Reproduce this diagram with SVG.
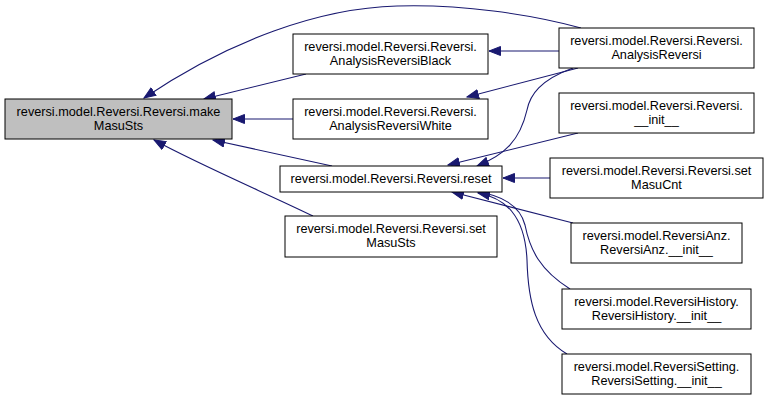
<svg xmlns="http://www.w3.org/2000/svg" width="768" height="400" viewBox="0 0 768 400">
<style>
.n rect{fill:#ffffff;stroke:#000000;stroke-width:1}
.n.main rect{fill:#bfbfbf}
text{font-family:"Liberation Sans",Arial,sans-serif;font-size:12.7px;text-anchor:middle;fill:#000}
.e path{fill:none;stroke:#191970;stroke-width:1.1}
</style>
<defs>
<marker id="ah" markerUnits="userSpaceOnUse" markerWidth="14" markerHeight="12" refX="12" refY="5" orient="auto">
<polygon points="0.5,0.5 12,5 0.5,9.5" fill="#191970" stroke="#191970"/>
</marker>
</defs>
<rect width="768" height="400" fill="#ffffff"/>
<g class="e">
<path d="M581,28 C530,14 460,4 397,6 C320,8 230,40 144,98" marker-end="url(#ah)"/>
<path d="M306,74 L204,99" marker-end="url(#ah)"/>
<path d="M293,119 L233,119" marker-end="url(#ah)"/>
<path d="M332,166 L213,140" marker-end="url(#ah)"/>
<path d="M313,216 C270,195 200,165 154,140" marker-end="url(#ah)"/>
<path d="M559,51 L489,51" marker-end="url(#ah)"/>
<path d="M578,68 L467,97" marker-end="url(#ah)"/>
<path d="M573,68 C540,80 530,95 527,110 C520,140 505,155 477,166" marker-end="url(#ah)"/>
<path d="M578,133 L448,165" marker-end="url(#ah)"/>
<path d="M550,178 L503,178" marker-end="url(#ah)"/>
<path d="M573,223 L452,192" marker-end="url(#ah)"/>
<path d="M570,289 C540,270 530,250 525,225 C520,205 500,195 478,192" marker-end="url(#ah)"/>
<path d="M567,354 C535,335 528,300 527,260 C525,215 505,198 478,193" marker-end="url(#ah)"/>
</g>
<g id="makeMasuSts" class="n main"><rect x="5" y="99" width="227" height="40"/><text x="118.5" y="116">reversi.model.Reversi.Reversi.make</text><text x="118.5" y="130">MasuSts</text></g>
<g id="AnalysisReversiBlack" class="n"><rect x="293" y="34" width="195" height="40"/><text x="390.5" y="51">reversi.model.Reversi.Reversi.</text><text x="390.5" y="65">AnalysisReversiBlack</text></g>
<g id="AnalysisReversiWhite" class="n"><rect x="293" y="99" width="195" height="40"/><text x="390.5" y="116">reversi.model.Reversi.Reversi.</text><text x="390.5" y="130">AnalysisReversiWhite</text></g>
<g id="reset" class="n"><rect x="280" y="166" width="222" height="26"/><text x="391" y="183">reversi.model.Reversi.Reversi.reset</text></g>
<g id="setMasuSts" class="n"><rect x="285" y="216" width="212" height="41"/><text x="391" y="233">reversi.model.Reversi.Reversi.set</text><text x="391" y="247">MasuSts</text></g>
<g id="AnalysisReversi" class="n"><rect x="559" y="28" width="195" height="40"/><text x="656.5" y="45">reversi.model.Reversi.Reversi.</text><text x="656.5" y="59">AnalysisReversi</text></g>
<g id="Reversi_init" class="n"><rect x="559" y="93" width="195" height="40"/><text x="656.5" y="110">reversi.model.Reversi.Reversi.</text><text x="656.5" y="124">__init__</text></g>
<g id="setMasuCnt" class="n"><rect x="550" y="158" width="213" height="40"/><text x="656.5" y="175">reversi.model.Reversi.Reversi.set</text><text x="656.5" y="189">MasuCnt</text></g>
<g id="ReversiAnz_init" class="n"><rect x="571" y="223" width="171" height="40"/><text x="656.5" y="240">reversi.model.ReversiAnz.</text><text x="656.5" y="254">ReversiAnz.__init__</text></g>
<g id="ReversiHistory_init" class="n"><rect x="562" y="289" width="189" height="40"/><text x="656.5" y="306">reversi.model.ReversiHistory.</text><text x="656.5" y="320">ReversiHistory.__init__</text></g>
<g id="ReversiSetting_init" class="n"><rect x="562" y="354" width="189" height="40"/><text x="656.5" y="371">reversi.model.ReversiSetting.</text><text x="656.5" y="385">ReversiSetting.__init__</text></g>
</svg>
